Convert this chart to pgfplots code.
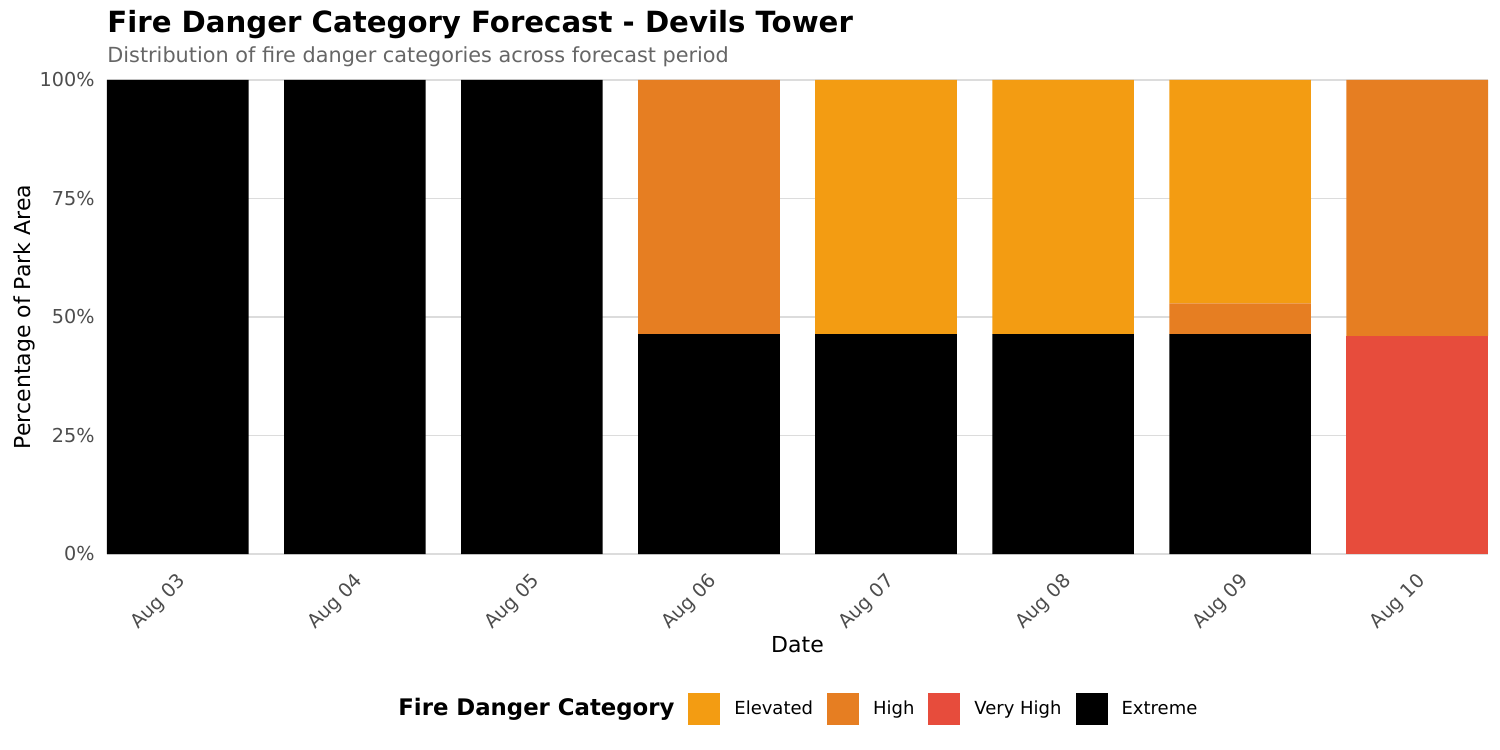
\documentclass[border=0pt]{standalone}
\usepackage{fontspec}
\setmainfont{DejaVu Sans}
\usepackage{pgfplots}
\pgfplotsset{compat=1.18}

\definecolor{elevated}{HTML}{F39C12}
\definecolor{high}{HTML}{E67E22}
\definecolor{veryhigh}{HTML}{E74C3C}
\definecolor{extreme}{HTML}{000000}
\definecolor{txtgrey}{HTML}{4D4D4D}
\definecolor{subgrey}{HTML}{666666}
\definecolor{gridgrey}{HTML}{DCDCDC}

\begin{document}
\begin{tikzpicture}
\useasboundingbox (0,0) rectangle (750pt,375pt);
% title and subtitle
\node[anchor=base west, inner sep=0pt, font=\fontsize{14.6}{17}\selectfont\bfseries] at (53.5pt,358.5pt) {Fire Danger Category Forecast - Devils Tower};
\node[anchor=base west, inner sep=0pt, text=subgrey, font=\fontsize{10.4}{12}\selectfont] at (53.5pt,343.5pt) {Distribution of fire danger categories across forecast period};
\begin{axis}[
    at={(53.5pt,98pt)}, anchor=south west,
    scale only axis,
    width=690.5pt, height=237pt,
    ybar stacked,
    bar width=0.8,
    xmin=-0.4, xmax=7.4,
    ymin=0, ymax=100,
    xtick={0,...,7},
    xticklabels={Aug 03,Aug 04,Aug 05,Aug 06,Aug 07,Aug 08,Aug 09,Aug 10},
    ytick={0,25,50,75,100},
    yticklabels={0\%,25\%,50\%,75\%,100\%},
    axis line style={draw=none},
    major tick style={draw=none},
    ymajorgrids,
    grid style={gridgrey, line width=0.8pt},
    ticklabel style={text=txtgrey, font=\fontsize{9.6}{11}\selectfont},
    yticklabel style={anchor=east, inner sep=0pt, xshift=-6pt},
    % shifts act in the rotated frame
    xticklabel style={rotate=45, anchor=north east, inner sep=0pt, xshift=-6.6pt, yshift=-5.6pt},
    xlabel={Date},
    ylabel={Percentage of Park Area},
    label style={font=\fontsize{11}{13}\selectfont},
    xlabel style={at={(axis description cs:0.5,-0.192)}, anchor=center},
    ylabel style={at={(axis description cs:-0.060,0.5)}, anchor=center},
    clip=false,
    reverse legend,
    legend columns=-1,
    legend style={at={(axis description cs:0.4207,-0.327)}, anchor=west,
        draw=none, fill=none, inner sep=0pt, column sep=7pt,
        nodes={inner sep=0pt}, font=\fontsize{9}{11}\selectfont},
    legend image code/.code={\fill[#1] (0pt,-8pt) rectangle (16pt,8pt);},
]
\addplot[fill=extreme, draw=none] coordinates {(0,100) (1,100) (2,100) (3,46.4) (4,46.4) (5,46.4) (6,46.4) (7,0)};
\addplot[fill=veryhigh, draw=none] coordinates {(0,0) (1,0) (2,0) (3,0) (4,0) (5,0) (6,0) (7,46.0)};
\addplot[fill=high, draw=none] coordinates {(0,0) (1,0) (2,0) (3,53.6) (4,0) (5,0) (6,6.5) (7,54.0)};
\addplot[fill=elevated, draw=none] coordinates {(0,0) (1,0) (2,0) (3,0) (4,53.6) (5,53.6) (6,47.1) (7,0)};
\legend{Extreme,Very High,High,Elevated}
\node[anchor=west, inner sep=0pt, font=\fontsize{11.4}{13}\selectfont\bfseries] at (axis description cs:0.2107,-0.327) {Fire Danger Category};
\end{axis}
\end{tikzpicture}
\end{document}
